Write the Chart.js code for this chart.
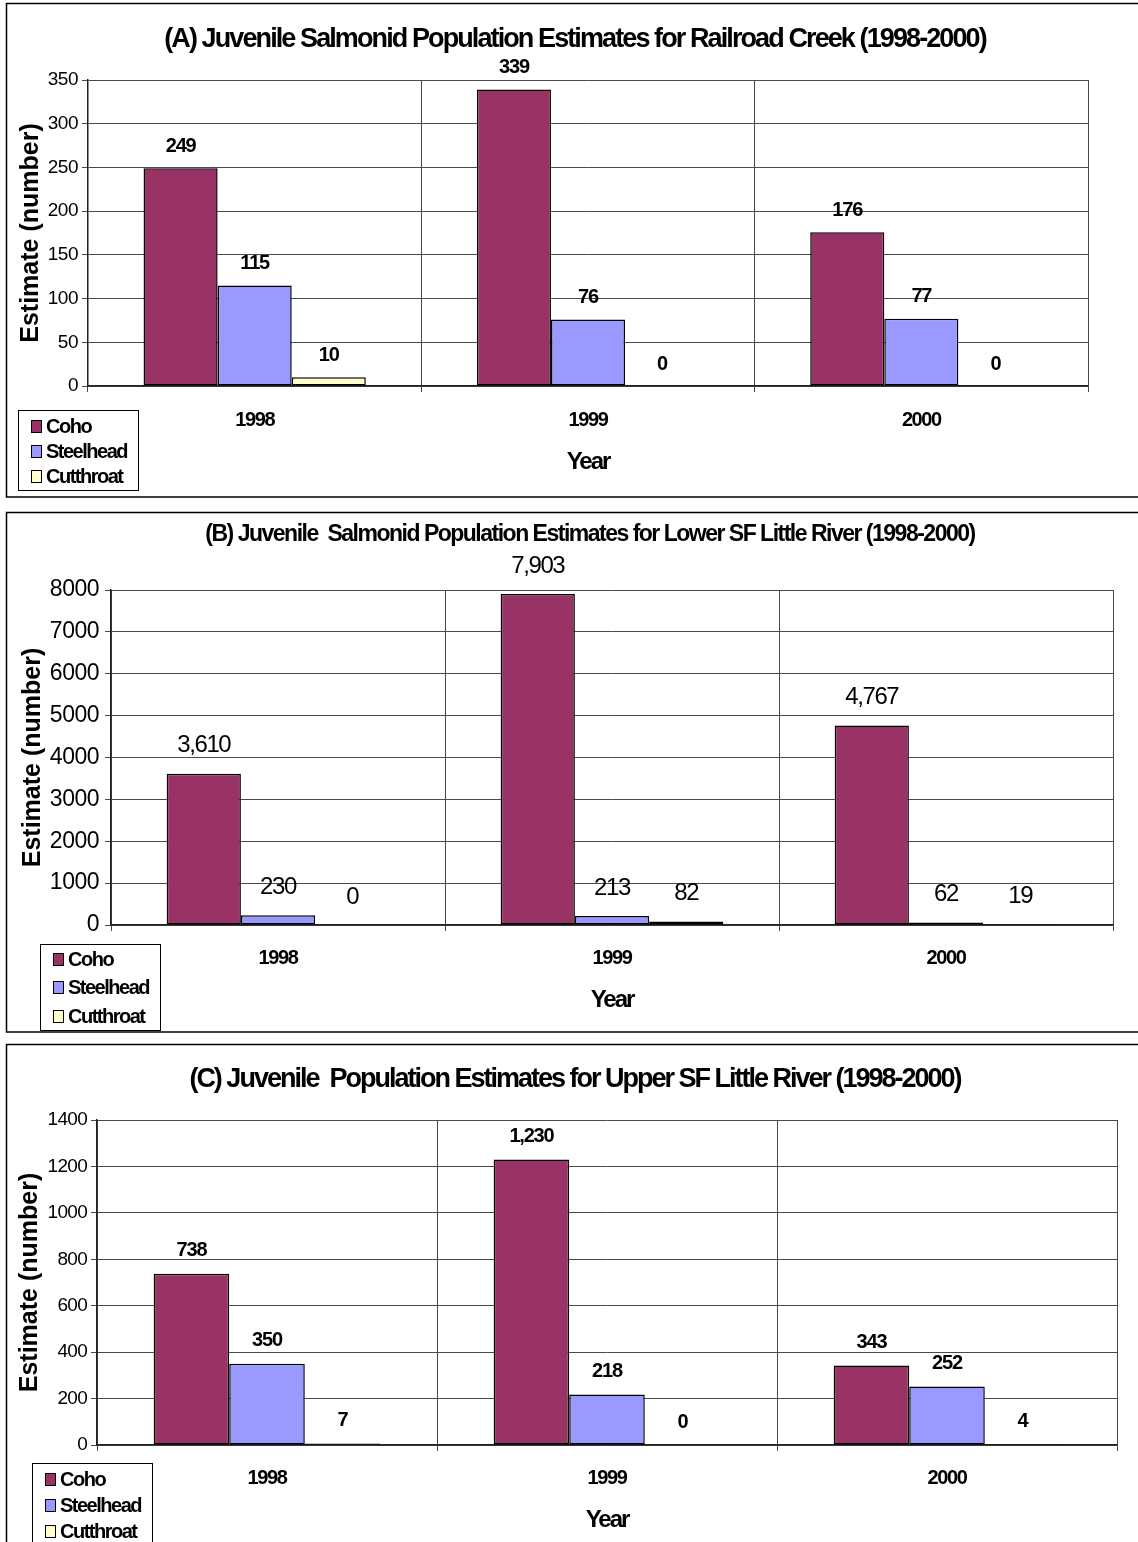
<!DOCTYPE html>
<html>
<head>
<meta charset="utf-8">
<script src="https://cdn.jsdelivr.net/npm/chart.js@4.4.1/dist/chart.umd.min.js"></script>
<style>
  html, body { margin: 0; padding: 0; background: #fff; }
  body { width: 1138px; height: 1542px; position: relative; overflow: hidden; }
  canvas { position: absolute; left: 0; }
</style>
</head>
<body>
<canvas id="chartA" width="1138" height="500" style="top:0px"></canvas>
<canvas id="chartB" width="1138" height="532" style="top:505px"></canvas>
<canvas id="chartC" width="1138" height="505" style="top:1037px"></canvas>
<script>
// Survey years and species
const YEARS = ['1998', '1999', '2000'];
const SPECIES = ['Coho', 'Steelhead', 'Cutthroat'];
const SPECIES_COLORS = ['#993366', '#9999FF', '#FFFFCC'];

// (A) Railroad Creek
const railroadCoho = [249, 339, 176];
const railroadSteelhead = [115, 76, 77];
const railroadCutthroat = [10, 0, 0];

// (B) Lower SF Little River
const lowerCoho = [3610, 7903, 4767];
const lowerSteelhead = [230, 213, 62];
const lowerCutthroat = [0, 82, 19];

// (C) Upper SF Little River
const upperCoho = [738, 1230, 343];
const upperSteelhead = [350, 218, 252];
const upperCutthroat = [7, 0, 4];

// Value axis ranges: [min, max, step]
const railroadAxis = [0, 350, 50];
const lowerAxis = [0, 8000, 1000];
const upperAxis = [0, 1400, 200];

const SANS = '"Liberation Sans", Arial, Helvetica, sans-serif';

// Tight, Arial-like text: wrap a scale drawing method with a letter spacing
function spaced(scale, method, spacing) {
  const orig = scale[method];
  scale[method] = function (...args) {
    const ctx = this.ctx;
    const prev = ctx.letterSpacing;
    ctx.letterSpacing = spacing;
    orig.apply(this, args);
    ctx.letterSpacing = prev;
  };
}

function buildChart(canvasId, titleText, series, axis, look) {
  const canvas = document.getElementById(canvasId);

  const spacingPlugin = {
    id: 'spacing',
    afterLayout(chart) {
      const { x, y } = chart.scales;
      if (x._spaced) return;
      spaced(x, 'drawLabels', '-1.4px');
      spaced(x, 'drawTitle', '-2px');
      spaced(y, 'drawLabels', look.yTickSpacing);
      x._spaced = true;
    }
  };

  const framePlugin = {
    id: 'frame',
    beforeDraw(chart) {
      const ctx = chart.ctx;
      ctx.save();
      ctx.fillStyle = '#fff';
      ctx.fillRect(0, 0, chart.width, chart.height);
      ctx.strokeStyle = '#000';
      ctx.lineWidth = 1.5;
      ctx.strokeRect(6.5, look.frameTop, 1160, look.frameBottom - look.frameTop);
      ctx.restore();
    }
  };

  const headingPlugin = {
    id: 'heading',
    afterDraw(chart) {
      const ctx = chart.ctx;
      ctx.save();
      ctx.font = `bold ${look.titleSize}px ${SANS}`;
      ctx.letterSpacing = look.titleSpacing;
      ctx.fillStyle = '#000';
      ctx.textAlign = 'center';
      ctx.textBaseline = 'middle';
      ctx.fillText(titleText, look.titleX, look.titleY);
      ctx.restore();
    }
  };

  const valuePlugin = {
    id: 'values',
    afterDatasetsDraw(chart) {
      const ctx = chart.ctx;
      ctx.save();
      ctx.font = `${look.valueWeight} ${look.valueSize}px ${SANS}`;
      ctx.letterSpacing = look.valueSpacing;
      ctx.fillStyle = '#000';
      ctx.textAlign = 'center';
      ctx.textBaseline = 'middle';
      chart.data.datasets.forEach((ds, i) => {
        chart.getDatasetMeta(i).data.forEach((bar, j) => {
          ctx.fillText(ds.data[j].toLocaleString('en-US'), bar.x, bar.y - look.valueGap);
        });
      });
      ctx.restore();
    }
  };

  const keyPlugin = {
    id: 'key',
    afterDraw(chart) {
      const ctx = chart.ctx;
      const k = look.key;
      ctx.save();
      ctx.fillStyle = '#fff';
      ctx.fillRect(k.x, k.y, k.w, k.h);
      ctx.strokeStyle = '#000';
      ctx.lineWidth = 1;
      ctx.strokeRect(k.x + 0.5, k.y + 0.5, k.w, k.h);
      ctx.font = `bold 20px ${SANS}`;
      ctx.letterSpacing = '-1.5px';
      ctx.textBaseline = 'middle';
      ctx.textAlign = 'left';
      chart.data.datasets.forEach((ds, i) => {
        const cy = k.rows[i];
        ctx.fillStyle = ds.backgroundColor;
        ctx.fillRect(k.markX, cy - 6, 10, 12);
        ctx.strokeStyle = '#000';
        ctx.strokeRect(k.markX + 0.5, cy - 5.5, 10, 12);
        ctx.fillStyle = '#000';
        ctx.fillText(ds.label, k.textX, cy + 1);
      });
      ctx.restore();
    }
  };

  return new Chart(canvas, {
    type: 'bar',
    data: {
      labels: YEARS,
      datasets: series.map((vals, i) => ({
        label: SPECIES[i],
        data: vals,
        backgroundColor: SPECIES_COLORS[i],
        borderColor: '#000',
        borderWidth: 1.5,
        borderSkipped: false,
        categoryPercentage: 2 / 3,
        barPercentage: 1
      }))
    },
    options: {
      responsive: false,
      animation: false,
      devicePixelRatio: 1,
      layout: { padding: look.padding },
      plugins: {
        legend: { display: false },
        title: { display: false },
        tooltip: { enabled: false }
      },
      scales: {
        x: {
          grid: { offset: true, color: '#4a4a4a', lineWidth: 1, tickLength: 6, drawTicks: true },
          border: { color: '#222', width: 1.5 },
          ticks: {
            color: '#000',
            padding: look.xTickPad,
            font: { family: SANS, weight: 'bold', size: 20 }
          },
          title: {
            display: true,
            text: 'Year',
            color: '#000',
            padding: 0,
            font: { family: SANS, weight: 'bold', size: 24 }
          },
          afterFit(scale) { scale.height = look.xHeight; }
        },
        y: {
          min: axis[0],
          max: axis[1],
          grid: { color: '#4a4a4a', lineWidth: 1, tickLength: 6 },
          border: { color: '#222', width: 1.5 },
          ticks: {
            stepSize: axis[2],
            color: '#000',
            padding: look.yTickPad,
            font: { family: SANS, size: look.yTickSize },
            callback: (v) => String(v)
          },
          title: {
            display: true,
            text: 'Estimate (number)',
            color: '#000',
            padding: { top: look.yTitlePad, bottom: 0 },
            font: { family: SANS, weight: 'bold', size: 25 }
          },
          afterFit(scale) { scale.width = look.yWidth; }
        }
      }
    },
    plugins: [spacingPlugin, framePlugin, headingPlugin, valuePlugin, keyPlugin]
  });
}

buildChart('chartA',
  '(A) Juvenile Salmonid Population Estimates for Railroad Creek (1998-2000)',
  [railroadCoho, railroadSteelhead, railroadCutthroat], railroadAxis, {
    frameTop: 3.5, frameBottom: 497,
    padding: { left: 10, top: 80, right: 50, bottom: 23 },
    yWidth: 78, xHeight: 91, xTickPad: 16, yTickPad: 4, yTickSize: 19, yTitlePad: 6,
    yTickSpacing: '-0.5px',
    titleSize: 27, titleSpacing: '-1.9px', titleX: 575, titleY: 40,
    valueSize: 20, valueWeight: 'bold', valueSpacing: '-1.2px', valueGap: 22,
    key: { x: 18, y: 410, w: 120, h: 80, rows: [426, 451, 476], markX: 31, textX: 46 }
  });

buildChart('chartB',
  '(B) Juvenile  Salmonid Population Estimates for Lower SF Little River (1998-2000)',
  [lowerCoho, lowerSteelhead, lowerCutthroat], lowerAxis, {
    frameTop: 7.5, frameBottom: 527,
    padding: { left: 10, top: 85, right: 25, bottom: 22 },
    yWidth: 101, xHeight: 90, xTickPad: 15, yTickPad: 6, yTickSize: 23, yTitlePad: 8,
    yTickSpacing: '-0.5px',
    titleSize: 23, titleSpacing: '-1.5px', titleX: 590, titleY: 30,
    valueSize: 24, valueWeight: 'normal', valueSpacing: '-1.4px', valueGap: 28,
    key: { x: 40, y: 439, w: 120, h: 86, rows: [454, 482, 511], markX: 53, textX: 68 }
  });

buildChart('chartC',
  '(C) Juvenile  Population Estimates for Upper SF Little River (1998-2000)',
  [upperCoho, upperSteelhead, upperCutthroat], upperAxis, {
    frameTop: 7.5, frameBottom: 560,
    padding: { left: 10, top: 83, right: 21, bottom: 7 },
    yWidth: 87, xHeight: 90, xTickPad: 15, yTickPad: 4, yTickSize: 19, yTitlePad: 5,
    yTickSpacing: '-0.7px',
    titleSize: 27, titleSpacing: '-2px', titleX: 575, titleY: 43,
    valueSize: 20, valueWeight: 'bold', valueSpacing: '-1.2px', valueGap: 23,
    key: { x: 32, y: 426, w: 120, h: 100, rows: [442, 468, 494], markX: 45, textX: 60 }
  });
</script>
</body>
</html>
